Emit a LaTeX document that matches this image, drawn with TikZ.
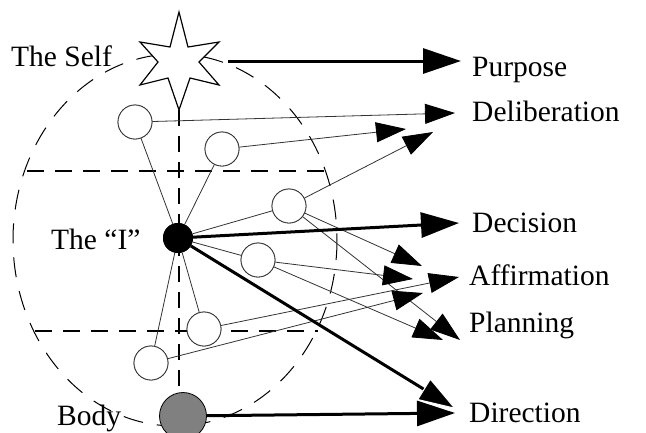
\documentclass[tikz,border=0pt]{standalone}
\usepackage{fontspec}
\setmainfont{Liberation Serif}
\usetikzlibrary{arrows.meta}

\tikzset{
  label text/.style={font=\fontsize{29.5}{34}\selectfont, inner sep=0pt, anchor=base west},
  small ball/.style={circle, draw=black!80, line width=0.8pt, fill=white, minimum size=34pt, inner sep=0pt},
  thin link/.style={draw=black!80, line width=0.8pt},
  thin arrow/.style={draw=black!80, line width=0.8pt, -{Triangle[length=30pt,width=20pt,fill=black,color=black]}},
  thick arrow/.style={draw=black, line width=3pt, -{Triangle[length=38pt,width=25pt]}},
  sphere dash/.style={line width=1pt, dash pattern=on 20pt off 14pt},
  level dash/.style={line width=1.7pt, dash pattern=on 17pt off 11pt},
  axis dash/.style={line width=1.4pt, dash pattern=on 16pt off 10pt},
}

\begin{document}
\begin{tikzpicture}[x=1pt,y=-1pt]
\useasboundingbox (0,0) rectangle (646,432);

% the sphere of the personality with its levels and axis
\draw[sphere dash] (175,240) ellipse [x radius=162, y radius=186];
\draw[level dash] (27,171) -- (325,171);
\draw[level dash] (35,331) -- (318,331);
\draw[axis dash] (179,110) -- (179,395);

% centres of consciousness
\node[circle, fill=black, minimum size=30pt, inner sep=0pt] (I) at (178,238) {};
\node[circle, draw=black, line width=0.8pt, fill=black!50, minimum size=47pt, inner sep=0pt] (body) at (183,416) {};

\node[small ball] (c1) at (135,122) {};
\node[small ball] (c2) at (222,149) {};
\node[small ball] (c3) at (289,206) {};
\node[small ball] (c4) at (258,260) {};
\node[small ball] (c5) at (204,329) {};
\node[small ball] (c6) at (151,363) {};

% arrow ends
\coordinate (selfR) at (228,61);
\coordinate (tPurpose) at (461,61);
\coordinate (tDelib) at (455,113);
\coordinate (tDelibA) at (406,129);
\coordinate (tDelibB) at (433,132);
\coordinate (tDecision) at (459,223);
\coordinate (tAffA) at (422,266);
\coordinate (tAffB) at (413,279);
\coordinate (tAffC) at (459,277);
\coordinate (tAffD) at (423,293);
\coordinate (tPlanA) at (443,340);
\coordinate (tPlanB) at (460,340);
\coordinate (tDirA) at (456,409);
\coordinate (tDirB) at (455,413);

% spokes from the "I"
\foreach \c in {c1,c2,c3,c4,c5,c6}
  \draw[thin link] (I) -- (\c);

% thin arrows from the sub-personalities
\draw[thin arrow] (c1) -- (tDelib);
\draw[thin arrow] (c2) -- (tDelibA);
\draw[thin arrow] (c3) -- (tDelibB);
\draw[thin arrow] (c3) -- (tAffA);
\draw[thin arrow] (c3) -- (tPlanB);
\draw[thin arrow] (c4) -- (tAffB);
\draw[thin arrow] (c4) -- (tPlanA);
\draw[thin arrow] (c5) -- (tAffC);
\draw[thin arrow] (c6) -- (tAffD);

% redraw balls above the connectors
\foreach \c/\p in {c1/{135,122},c2/{222,149},c3/{289,206},c4/{258,260},c5/{204,329},c6/{151,363}}
  \node[small ball] at (\p) {};

% thick arrows
\draw[thick arrow] (I) -- (tDecision);
\draw[thick arrow] (body) -- (tDirB);
\draw[line width=3pt, -{Triangle[length=38pt,width=25pt,fill=black,color=white,line width=1pt]}] (I) -- (tDirA);
\node[circle, fill=black, minimum size=30pt, inner sep=0pt] at (178,238) {};

% the Self
\draw[line width=1.2pt, fill=white, line join=miter]
  (179,12) -- (188,47) -- (219,42) -- (199,62) -- (219,85) -- (190,78) --
  (179,110) -- (168,78) -- (140,85) -- (158,62) -- (140,42) -- (170,47) -- cycle;
\draw[thick arrow] (selfR) -- (tPurpose);

% labels
\node[label text] (lSelf) at (11,66) {The Self};
\node[label text] (lI) at (51,249) {The “I”};
\node[label text] (lBody) at (57,425) {Body};
\node[label text] (lPurpose) at (472,76) {Purpose};
\node[label text] (lDelib) at (472,121) {Deliberation};
\node[label text] (lDecision) at (472,232) {Decision};
\node[label text] (lAff) at (469,285) {Affirmation};
\node[label text] (lPlan) at (469,332) {Planning};
\node[label text] (lDir) at (469,422) {Direction};
\end{tikzpicture}
\end{document}
